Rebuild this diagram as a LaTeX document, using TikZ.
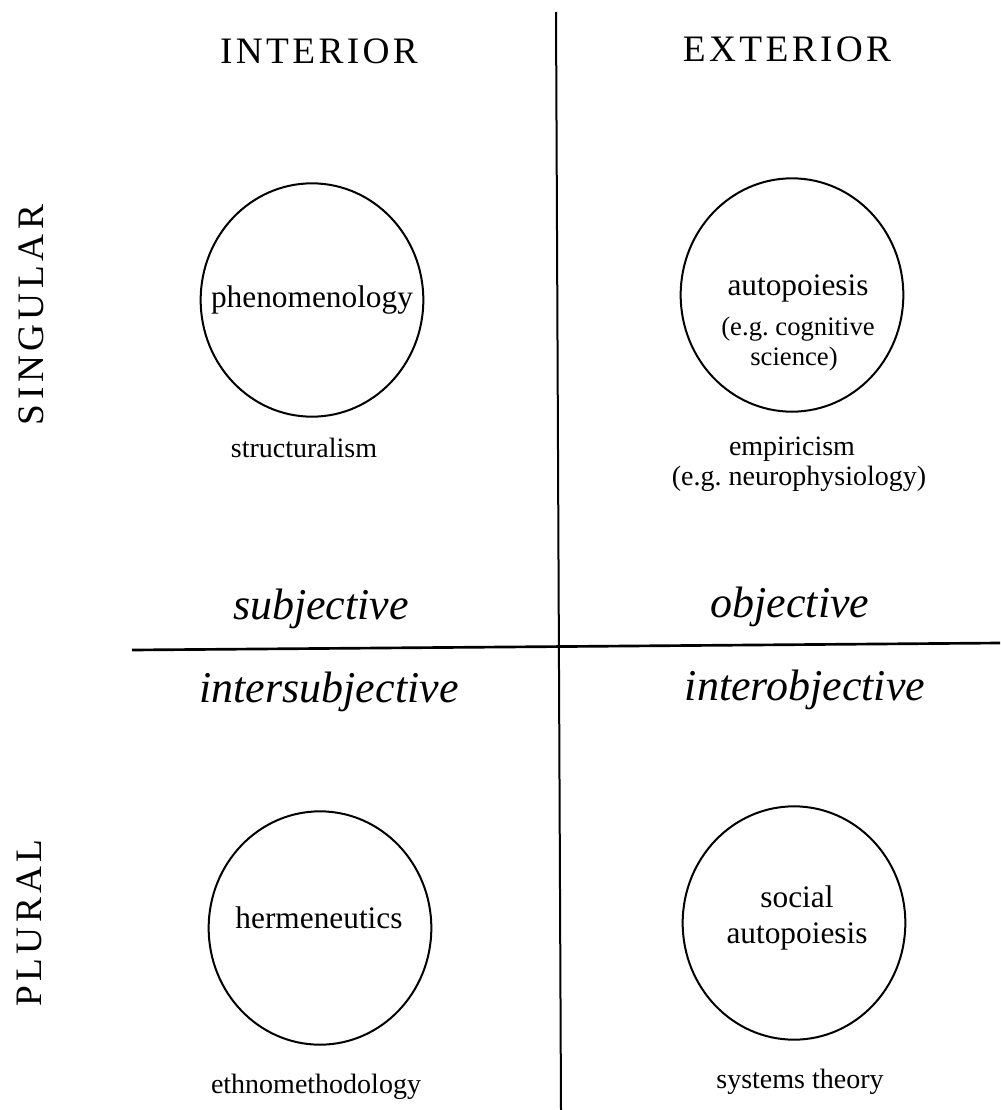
\documentclass[tikz,border=0pt]{standalone}
\usepackage{fontspec}
\setmainfont{Liberation Serif}
\usetikzlibrary{shapes.geometric}

\tikzset{every picture/.style={line width=0.75pt}}
\tikzset{
  quadcirc/.style={draw, ellipse, line width=1.5pt, minimum width=167pt, minimum height=175pt, inner sep=0pt},
  headlbl/.style={anchor=base, font=\fontsize{28}{30}\selectfont\addfontfeature{LetterSpace=9}},
  sidelbl/.style={anchor=base, rotate=90, font=\fontsize{28}{30}\selectfont\addfontfeature{LetterSpace=12}},
  fieldlbl/.style={anchor=base, font=\fontsize{23.5}{27}\selectfont},
  notelbl/.style={anchor=base, font=\fontsize{20}{24}\selectfont},
  sublbl/.style={anchor=base, font=\fontsize{21}{25}\selectfont},
  modelbl/.style={anchor=base, font=\fontsize{33}{36}\selectfont\itshape}
}

\begin{document}
\begin{tikzpicture}[x=0.75pt,y=0.75pt,yscale=-1,xscale=1]
\path [use as bounding box] (0,0) rectangle (1000,1110);

%Straight Lines: the two axes
\draw [line width=1.5] (556,12) coordinate (vtop) -- (561,1110) coordinate (vbot) ;
\draw [line width=2] (132,650) coordinate (hleft) -- (1000,643) coordinate (hright) ;

% Text Node: column and row heads
\node [headlbl] (interior) at (319,63) {INTERIOR};
\node [headlbl] (exterior) at (787,61) {EXTERIOR};
\node [sidelbl] (singular) at (43,315) {SINGULAR};
\node [sidelbl] (plural) at (41,923) {PLURAL};

%Shape: Circle, upper left
\node [quadcirc] (ulcirc) at (312,300) {};
\node [fieldlbl] (phenom) at (312,307) {phenomenology};
\node [sublbl] (struct) at (304,457) {structuralism};

%Shape: Circle, upper right
\node [quadcirc] (urcirc) at (792,295) {};
\node [fieldlbl] (autop) at (798,295) {autopoiesis};
\node [notelbl] (cogsci) at (798,335) {(e.g.\ cognitive};
\node [notelbl] (science) at (794,365) {science)};
\node [sublbl] (empir) at (792,455) {empiricism};
\node [sublbl] (neuro) at (799,485) {(e.g.\ neurophysiology)};

% Text Node: the four modes
\node [modelbl] (subj) at (321,619) {subjective};
\node [modelbl] (obj) at (790,617) {objective};
\node [modelbl] (intersubj) at (329,702) {intersubjective};
\node [modelbl] (interobj) at (805,700) {interobjective};

%Shape: Circle, lower left
\node [quadcirc] (llcirc) at (320,928) {};
\node [fieldlbl] (herm) at (319,928) {hermeneutics};
\node [sublbl] (ethno) at (316,1093) {ethnomethodology};

%Shape: Circle, lower right
\node [quadcirc] (lrcirc) at (794,923) {};
\node [fieldlbl] (social) at (797,907) {social};
\node [fieldlbl] (socautop) at (797,943) {autopoiesis};
\node [sublbl] (systems) at (800,1088) {systems theory};

\end{tikzpicture}
\end{document}
